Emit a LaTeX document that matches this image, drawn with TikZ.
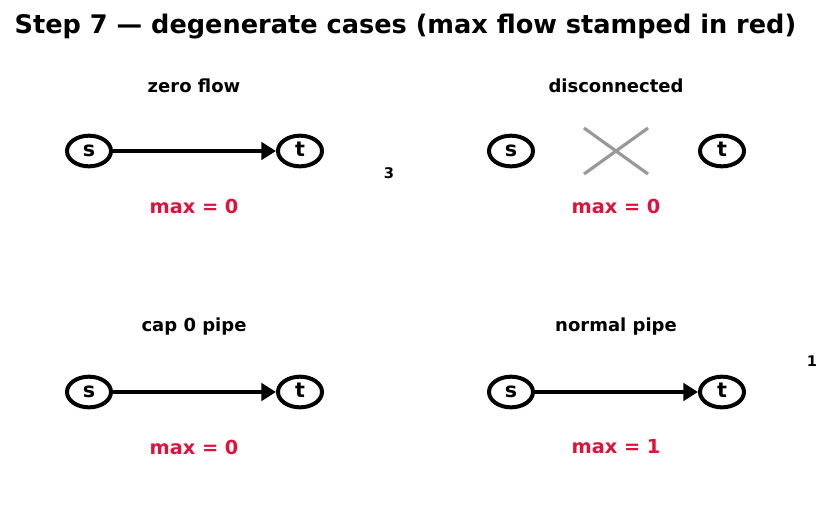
\documentclass[tikz,border=0pt]{standalone}
\usepackage{fontspec}
\setmainfont{DejaVu Sans}
\usepackage{tikz}
\usetikzlibrary{positioning,arrows.meta,shapes.geometric}
\usepackage{xcolor}
\definecolor{flowred}{HTML}{DC143C}

\begin{document}
\begin{tikzpicture}[
    x=0.75pt, y=-0.75pt,
    font=\bfseries,
    vert/.style={draw, ellipse, line width=3pt, minimum width=33pt, minimum height=23pt, inner sep=0pt, text height=1.5ex, text depth=0pt, font=\fontsize{15.5}{18}\selectfont\bfseries},
    pipe/.style={-{Triangle[length=11pt, width=13pt]}, line width=3pt},
    case/.style={font=\fontsize{13.5}{16}\selectfont\bfseries},
    maxval/.style={text=flowred, font=\fontsize{14.5}{17}\selectfont\bfseries},
    caplbl/.style={font=\fontsize{11}{13}\selectfont\bfseries},
  ]
    \useasboundingbox (0,0) rectangle (831,512);
    \node[anchor=west, font=\fontsize{19.2}{23}\selectfont\bfseries] (title) at (10,27) {Step 7 — degenerate cases (max flow stamped in red)};

    % zero flow
    \node[case] (lblzero) at (194,86) {zero flow};
    \node[vert] (s1) at (89,151) {s};
    \node[vert] (t1) at (300,151) {t};
    \draw[pipe] (s1) -- (t1);
    \node[caplbl] (c1) at (389,173) {3};
    \node[maxval] (m1) at (194,206) {max = 0};

    % disconnected
    \node[case] (lbldisc) at (616,86) {disconnected};
    \node[vert] (s2) at (511,151) {s};
    \node[vert] (t2) at (722,151) {t};
    \coordinate (xa) at (584,128);
    \coordinate (xb) at (648,174);
    \coordinate (xc) at (584,174);
    \coordinate (xd) at (648,128);
    \draw[gray!80, line width=2.4pt] (xa) -- (xb) (xc) -- (xd);
    \node[maxval] (m2) at (616,206) {max = 0};

    % cap 0 pipe
    \node[case] (lblcap) at (194,327) {cap 0 pipe};
    \node[vert] (s3) at (89,392) {s};
    \node[vert] (t3) at (300,392) {t};
    \draw[pipe] (s3) -- (t3);
    \node[maxval] (m3) at (194,447) {max = 0};

    % normal pipe
    \node[case] (lblnorm) at (616,327) {normal pipe};
    \node[vert] (s4) at (511,392) {s};
    \node[vert] (t4) at (722,392) {t};
    \draw[pipe] (s4) -- (t4);
    \node[caplbl] (c4) at (812,361) {1};
    \node[maxval] (m4) at (616,447) {max = 1};
  \end{tikzpicture}
\end{document}
